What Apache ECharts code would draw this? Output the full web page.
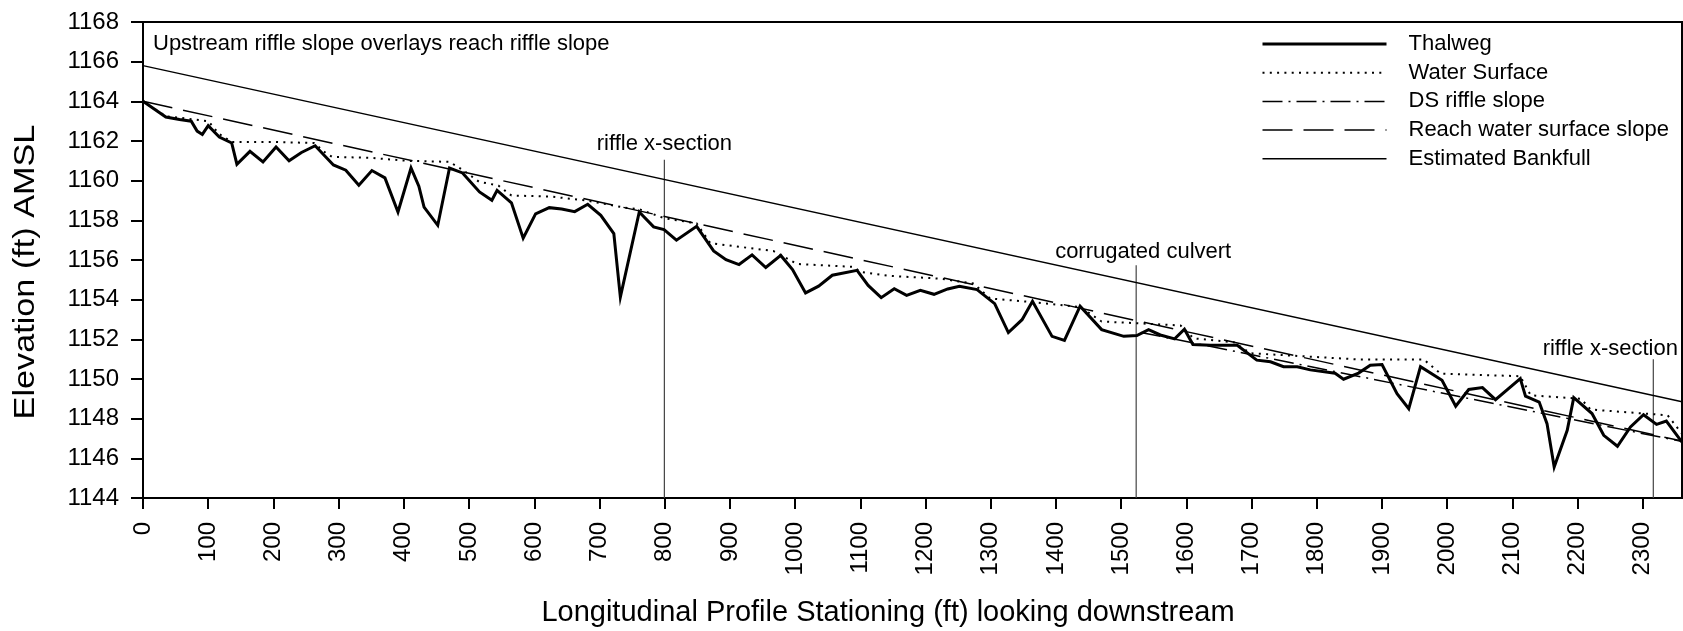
<!DOCTYPE html>
<html>
<head>
<meta charset="utf-8">
<title>Longitudinal profile</title>
<script src="https://cdn.jsdelivr.net/npm/echarts@6/dist/echarts.min.js"></script>
<style>
  html, body { margin: 0; padding: 0; background: #fff; }
  #chart { width: 1683px; height: 631px; }
</style>
</head>
<body>
<div id="chart"></div>
<script>
// thalweg survey points (station ft, elevation ft)
var thalwegStation = [
  0, 35, 56, 74, 83, 91, 100, 117, 136, 144,
  164, 184, 204, 224, 243, 264, 292, 311, 331, 351,
  371, 391, 411, 423, 431, 452, 470, 490, 516, 535,
  543, 565, 583, 602, 623, 642, 662, 682, 702, 722,
  732, 761, 783, 799, 818, 849, 875, 894, 914, 934,
  955, 978, 996, 1016, 1036, 1057, 1095, 1112, 1132, 1152,
  1171, 1192, 1213, 1234, 1252, 1279, 1306, 1327, 1348, 1364,
  1394, 1413, 1437, 1470, 1504, 1524, 1542, 1560, 1582, 1597,
  1610, 1637, 1678, 1708, 1729, 1749, 1770, 1790, 1828, 1841,
  1864, 1882, 1900, 1923, 1941, 1959, 1992, 2013, 2033, 2054,
  2074, 2112, 2120, 2141, 2153, 2164, 2184, 2194, 2222, 2240,
  2261, 2281, 2301, 2321, 2336, 2360
];
var thalwegElev = [
  1164.0, 1163.21, 1163.08, 1163.0, 1162.5, 1162.33, 1162.77, 1162.2, 1161.9, 1160.83,
  1161.48, 1160.94, 1161.7, 1161.0, 1161.42, 1161.76, 1160.79, 1160.53, 1159.77, 1160.51,
  1160.14, 1158.42, 1160.64, 1159.72, 1158.67, 1157.75, 1160.64, 1160.39, 1159.43, 1159.01,
  1159.51, 1158.88, 1157.1, 1158.33, 1158.64, 1158.57, 1158.44, 1158.81, 1158.25, 1157.33,
  1154.13, 1158.42, 1157.67, 1157.53, 1157.0, 1157.7, 1156.46, 1156.02, 1155.77, 1156.26,
  1155.62, 1156.23, 1155.52, 1154.34, 1154.68, 1155.23, 1155.48, 1154.72, 1154.1, 1154.55,
  1154.22, 1154.47, 1154.27, 1154.54, 1154.68, 1154.51, 1153.8, 1152.34, 1152.99, 1153.92,
  1152.15, 1151.95, 1153.67, 1152.49, 1152.15, 1152.19, 1152.49, 1152.22, 1152.02, 1152.51,
  1151.74, 1151.7, 1151.7, 1150.95, 1150.87, 1150.62, 1150.62, 1150.46, 1150.29, 1149.99,
  1150.3, 1150.69, 1150.73, 1149.26, 1148.5, 1150.62, 1149.94, 1148.63, 1149.47, 1149.57,
  1148.96, 1150.02, 1149.13, 1148.84, 1147.75, 1145.56, 1147.41, 1149.06, 1148.26, 1147.16,
  1146.61, 1147.58, 1148.2, 1147.71, 1147.88, 1146.82
];

// water surface
var wsStation = [
  0, 35, 75, 100, 117, 136, 200, 262, 280, 290,
  350, 405, 470, 490, 515, 545, 565, 625, 680, 737,
  762, 800, 849, 870, 967, 1003, 1090, 1100, 1145, 1222,
  1274, 1299, 1366, 1437, 1470, 1591, 1611, 1673, 1698, 1867,
  1964, 1990, 2112, 2128, 2205, 2220, 2338, 2360
];
var wsElev = [
  1164.0, 1163.25, 1163.1, 1163.0, 1162.35, 1161.95, 1161.95, 1161.9, 1161.4, 1161.2,
  1161.15, 1161.0, 1160.95, 1160.55, 1159.95, 1159.75, 1159.25, 1159.2, 1159.0, 1158.65,
  1158.55, 1158.1, 1157.85, 1156.85, 1156.45, 1155.8, 1155.65, 1155.4, 1155.2, 1155.06,
  1154.81, 1154.06, 1153.87, 1153.63, 1152.9, 1152.7, 1152.05, 1151.85, 1151.3, 1150.98,
  1150.98, 1150.27, 1150.14, 1149.18, 1149.0, 1148.46, 1148.17, 1147.24
];

// straight-line slopes
var dsRiffleStation = [1530, 2360];
var dsRiffleElev = [1152.35, 1146.85];
var reachStation = [0, 2360];
var reachElev = [1164.0, 1146.87];
var bankfullStation = [0, 2360];
var bankfullElev = [1165.8, 1148.85];

// vertical markers
var markerStation = [799.5, 1523, 2316];
var markerTop = [1161.06, 1155.73, 1151.0];
var markerText = ['riffle x-section', 'corrugated culvert', 'riffle x-section'];

var seriesNames = ['Thalweg', 'Water Surface', 'DS riffle slope', 'Reach water surface slope', 'Estimated Bankfull'];
var noteText = 'Upstream riffle slope overlays reach riffle slope';
var xTitle = 'Longitudinal Profile Stationing (ft) looking downstream';
var yTitle = 'Elevation (ft) AMSL';
var xMin = 0, xMax = 2360, xStep = 100;
var yMin = 1144, yMax = 1168, yStep = 2;

var FONT = 'Liberation Sans, Arial, Helvetica, sans-serif';

function zip(a, b) {
  var out = [];
  for (var i = 0; i < a.length; i++) out.push([a[i], b[i]]);
  return out;
}

var chart = echarts.init(document.getElementById('chart'));

var labelShift = [[0, -5], [7, -2], [-43, 1]];
var markerSeries = markerStation.map(function (s, i) {
  return {
    name: 'marker' + i,
    type: 'line',
    symbol: 'circle',
    symbolSize: 0,
    showSymbol: true,
    showAllSymbol: true,
    silent: true,
    clip: false,
    z: 1,
    itemStyle: { color: '#444' },
    lineStyle: { color: '#444', width: 1.2 },
    data: [
      [s, yMin],
      {
        value: [s, markerTop[i]],
        label: {
          show: true,
          position: 'top',
          distance: 0,
          offset: labelShift[i],
          formatter: markerText[i],
          color: '#000',
          fontFamily: FONT,
          fontSize: 22
        }
      }
    ]
  };
});

var legendWidths = [3, 2, 1.5, 1.5, 1.5];

chart.setOption({
  animation: false,
  backgroundColor: '#fff',
  textStyle: { fontFamily: FONT, color: '#000' },
  grid: {
    left: 143, top: 22, width: 1539, height: 476,
    show: true, borderColor: '#000', borderWidth: 2, backgroundColor: 'transparent'
  },
  legend: {
    orient: 'vertical',
    left: 1256,
    top: 28,
    itemWidth: 124,
    itemHeight: 14,
    itemGap: 6.7,
    selectedMode: false,
    itemStyle: { opacity: 0 },
    data: seriesNames.map(function (n, i) {
      return { name: n, lineStyle: { width: legendWidths[i] } };
    }),
    textStyle: { fontFamily: FONT, fontSize: 22, lineHeight: 22, color: '#000', padding: [0, 0, 0, 17] }
  },
  xAxis: {
    type: 'value',
    min: xMin, max: xMax, interval: xStep,
    axisLine: { lineStyle: { color: '#000', width: 2 } },
    axisTick: { length: 11, lineStyle: { color: '#000', width: 2 } },
    axisLabel: {
      rotate: 90, margin: 24, fontSize: 24, color: '#000', fontFamily: FONT,
      showMaxLabel: false,
      formatter: function (v) { return String(v); }
    },
    splitLine: { show: false }
  },
  yAxis: {
    type: 'value',
    min: yMin, max: yMax, interval: yStep,
    axisLine: { lineStyle: { color: '#000', width: 2 } },
    axisTick: { length: 12, lineStyle: { color: '#000', width: 2 } },
    axisLabel: {
      margin: 24, fontSize: 24, color: '#000', fontFamily: FONT,
      formatter: function (v) { return String(v); }
    },
    splitLine: { show: false }
  },
  graphic: [
    {
      type: 'text', x: 153, y: 44,
      style: { text: noteText, fill: '#000', fontSize: 22, fontFamily: FONT, verticalAlign: 'middle' }
    },
    {
      type: 'text', x: 888, y: 613,
      style: { text: xTitle, fill: '#000', fontSize: 29, fontFamily: FONT, align: 'center', verticalAlign: 'middle' }
    },
    {
      type: 'text', x: 26, y: 272, rotation: Math.PI / 2, scaleX: 1.18,
      style: { text: yTitle, fill: '#000', fontSize: 29, fontFamily: FONT, align: 'center', verticalAlign: 'middle' }
    }
  ],
  series: markerSeries.concat([
    {
      name: seriesNames[4], type: 'line', symbol: 'none', z: 2,
      lineStyle: { color: '#000', width: 1.5 },
      itemStyle: { color: '#000' },
      data: zip(bankfullStation, bankfullElev)
    },
    {
      name: seriesNames[3], type: 'line', symbol: 'none', z: 2,
      lineStyle: { color: '#000', width: 1.5, type: [30, 11] },
      itemStyle: { color: '#000' },
      data: zip(reachStation, reachElev)
    },
    {
      name: seriesNames[2], type: 'line', symbol: 'none', z: 2,
      lineStyle: { color: '#000', width: 1.5, type: [20, 6, 2, 6] },
      itemStyle: { color: '#000' },
      data: zip(dsRiffleStation, dsRiffleElev)
    },
    {
      name: seriesNames[1], type: 'line', symbol: 'none', z: 3,
      lineStyle: { color: '#000', width: 2, type: [2, 5.3] },
      itemStyle: { color: '#000' },
      data: zip(wsStation, wsElev)
    },
    {
      name: seriesNames[0], type: 'line', symbol: 'none', z: 4,
      lineStyle: { color: '#000', width: 3, join: 'miter' },
      itemStyle: { color: '#000' },
      data: zip(thalwegStation, thalwegElev)
    }
  ])
});
</script>
</body>
</html>
